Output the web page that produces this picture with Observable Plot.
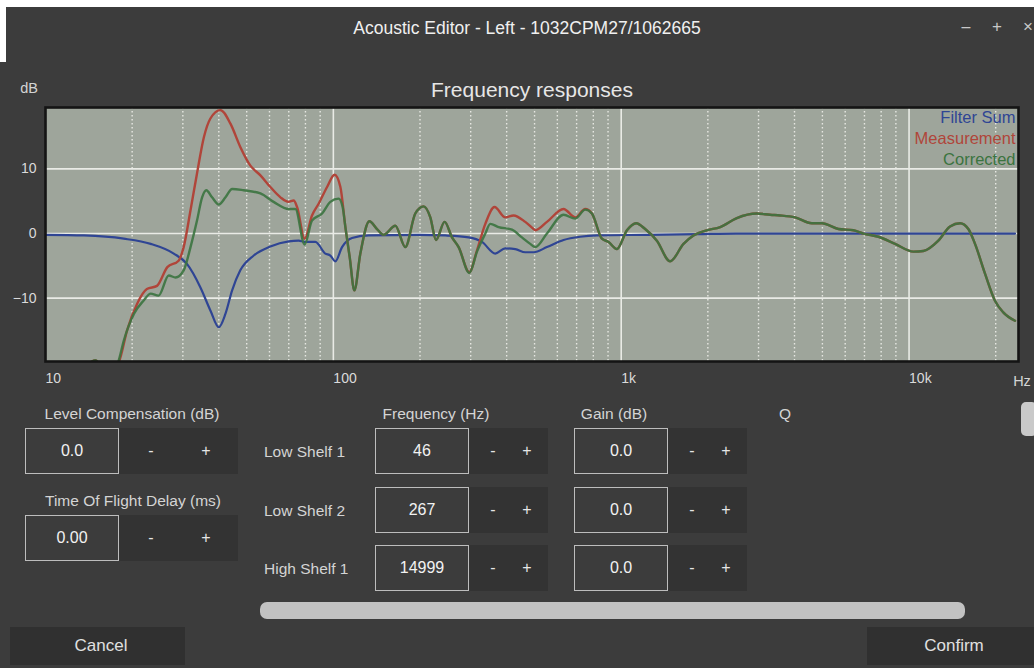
<!DOCTYPE html>
<html><head><meta charset="utf-8">
<script src="https://cdn.jsdelivr.net/npm/d3@7"></script>
<script src="https://cdn.jsdelivr.net/npm/@observablehq/plot@0.6"></script>
<style>
body{margin:0;background:#3c3c3c;font-family:"Liberation Sans",Arial,Helvetica,sans-serif;color:#d4d4d4;width:1034px;height:668px;overflow:hidden;position:relative}
.a{position:absolute;white-space:nowrap;transform:translateY(-50%);font-size:15.5px}
.t{position:absolute;transform:translate(-50%,-50%);white-space:nowrap;font-size:15.5px}
.box{position:absolute;border:1px solid #bdbdbd;box-sizing:border-box;display:flex;align-items:center;justify-content:center;color:#f2f2f2;font-size:16px}
.btn{position:absolute;background:#333333}
.pm{position:absolute;transform:translate(-50%,-50%);color:#e6e6e6;font-size:16px}
#chart{position:absolute;left:0;top:70px}
</style></head>
<body>
<div style="position:absolute;left:0;top:0;width:1034px;height:7px;background:#fff"></div>
<div style="position:absolute;left:0;top:0;width:6px;height:62px;background:#fff"></div>
<div class="t" style="left:527px;top:28px;font-size:17.5px;color:#f0f0f0">Acoustic Editor - Left - 1032CPM27/1062665</div>
<div class="t" style="left:966px;top:27px;color:#c8c8c8;font-size:16px">–</div>
<div class="t" style="left:997px;top:27px;color:#c8c8c8;font-size:17px">+</div>
<div class="t" style="left:1028px;top:27px;color:#c8c8c8;font-size:17px">×</div>
<div class="t" style="left:29px;top:88px;font-size:14.5px">dB</div>
<div class="t" style="left:532px;top:90px;font-size:21px;color:#e6e6e6">Frequency responses</div>
<div class="t" style="left:1022px;top:381px;font-size:14.5px">Hz</div>
<div id="chart"></div>

<div class="t" style="left:132px;top:414px">Level Compensation (dB)</div>
<div class="btn" style="left:118px;top:428px;width:120px;height:46px"></div>
<div class="box" style="left:25px;top:428px;width:94px;height:46px">0.0</div>
<div class="pm" style="left:151px;top:451px">-</div><div class="pm" style="left:206px;top:451px">+</div>

<div class="t" style="left:133px;top:501px">Time Of Flight Delay (ms)</div>
<div class="btn" style="left:118px;top:515px;width:120px;height:46px"></div>
<div class="box" style="left:25px;top:515px;width:94px;height:46px">0.00</div>
<div class="pm" style="left:151px;top:538px">-</div><div class="pm" style="left:206px;top:538px">+</div>

<div class="t" style="left:436px;top:414px">Frequency (Hz)</div>
<div class="t" style="left:614px;top:414px">Gain (dB)</div>
<div class="t" style="left:785px;top:414px">Q</div>
<div id="rows"></div>

<div style="position:absolute;left:260px;top:602px;width:705px;height:17px;border-radius:7px;background:#c2c2c2"></div>
<div style="position:absolute;left:1021px;top:402px;width:16px;height:34px;border-radius:5px;background:#c9c9c9"></div>
<div class="btn" style="left:10px;top:627px;width:175px;height:38px;background:#303030"></div>
<div class="t" style="left:101px;top:646px;font-size:17px;color:#e0e0e0">Cancel</div>
<div class="btn" style="left:867px;top:627px;width:167px;height:38px;background:#303030"></div>
<div class="t" style="left:954px;top:646px;font-size:17px;color:#e0e0e0">Confirm</div>

<script>
// ---- data ----
const filterNames = ["Low Shelf 1", "Low Shelf 2", "High Shelf 1"];
const filterFreqs = ["46", "267", "14999"];
const filterGains = ["0.0", "0.0", "0.0"];

const xTicks = [10, 100, 1000, 10000];
const xTickLabels = ["10", "100", "1k", "10k"];
const xMinor = [20,30,40,50,60,70,80,90,200,300,400,500,600,700,800,900,2000,3000,4000,5000,6000,7000,8000,9000,20000];
const yTicks = [-10, 0, 10];

const seriesNames = ["Filter Sum", "Measurement", "Corrected"];
const seriesColors = ["#2f4594", "#b0453a", "#3b7440"];

const sumFreq = [10,13.6,18.7,23.2,27.9,31.0,34.5,37.4,40.0,42.2,44.5,47.5,52.9,60.4,70.0,75.8,79.5,86.6,93.8,97.6,101.6,107.2,116.1,132.6,197.8,244.9,295.1,328.4,365.2,395.5,428.5,464.2,496.1,552.1,630.6,720.5,823.4,1228,1832,2500,23340];
const sumDb   = [-0.2,-0.3,-0.8,-1.6,-3.1,-4.7,-8.3,-11.9,-14.5,-12.4,-8.8,-5.7,-3.4,-2.0,-1.2,-1.1,-1.3,-1.3,-3.1,-3.4,-4.3,-2.1,-0.7,-0.3,-0.2,-0.3,-0.6,-1.3,-3.1,-2.3,-2.4,-2.9,-2.9,-2.1,-1.0,-0.5,-0.3,-0.2,-0.1,0,0];

const measFreq = [10,13,14.9,16.2,17.5,18.2,19.2,20.8,22.5,24.4,26.5,29.0,30.2,31.9,33.6,35.5,37.4,40.5,43.9,47.5,51.5,55.8,60.4,65.5,69.8,72.8,74.8,79.5,84.3,88.9,95.1,101,105.8,110.1,114,118.3,124.1,133.4,141.8,149.5,164.2,177.8,192.6,205.8,217.2,227.3,243.5,258.4,272.4,296.7,315.5,337.2,363.2,395.5,422.7,464.2,496.1,502.9,552.1,630.6,692.3,749.9,791.2,857,903.6,966.2,1047,1127,1211,1330,1479,1646,1782,1985,2208,2522,2959,3292,3565,4019,4595,4978,5682,6406,6940,7825,8943,10350,11210,12640,13880,15040,16070,16950,18360,19880,21250,23340];
const measDb   = [-27,-22,-19.6,-21.5,-21,-19.2,-15.0,-10.9,-8.6,-8.1,-5.2,-4.2,-2.1,3.6,9.3,14.9,17.8,19.1,17.0,13.4,10.5,9.0,7.2,5.6,4.9,5.1,4.1,-0.8,2.8,4.6,7.2,9.1,7.2,1.0,-3.7,-8.8,-3.1,1.9,0.7,-0.2,1.2,-2.1,3.1,4.2,2.5,-1.0,1.8,-0.6,-2.1,-6.0,-2.6,1.5,4.1,2.5,2.8,1.8,0.7,0.5,1.8,3.8,2.5,3.8,3.1,-0.8,-1.3,-2.4,0.5,1.6,0.7,-1.1,-4.3,-1.6,-0.3,0.5,1.0,2.4,3.1,2.9,2.8,2.5,1.6,1.6,0.7,0.5,0,-0.5,-1.6,-2.8,-2.7,-1.1,1.1,1.6,0.7,-1.6,-6.2,-10.4,-12.2,-13.5];

const corrFreq = [10,13,14.9,16.2,17.5,18.0,18.7,20.3,21.9,23.2,24.7,26.8,28.3,30.2,31.9,33.6,35.0,36.2,37.9,40.0,42.2,44.5,48.8,55.8,62.0,70.0,73.8,79.5,84.3,91.4,97.6,104.3,107.7,110.1,114,118.3,124.1,133.4,141.8,149.5,164.2,177.8,192.6,205.8,217.2,227.3,243.5,258.4,272.4,296.7,315.5,337.2,350.9,375,417.4,452,483.1,502.9,552.1,630.6,692.3,749.9,791.2,857,903.6,966.2,1047,1127,1211,1330,1479,1646,1782,1985,2208,2522,2959,3292,3565,4019,4595,4978,5682,6406,6940,7825,8943,10350,11210,12640,13880,15040,16070,16950,18360,19880,21250,23340];
const corrDb   = [-27,-22,-19.6,-21.5,-21,-19.5,-16.6,-12.4,-10.4,-9.3,-9.6,-6.5,-6.8,-5.7,-2.1,2.0,5.6,6.7,5.6,4.5,5.6,6.9,6.7,6.2,4.9,3.8,3.8,-1.7,2.0,3.1,4.9,5.4,4.1,1.0,-3.7,-8.8,-3.1,1.9,0.7,-0.2,1.2,-2.1,3.1,4.2,2.5,-1.0,1.8,-0.6,-2.1,-6.1,-2.8,0,1.5,1.0,0.6,-0.6,-1.6,-2.1,0,2.9,2.3,3.7,3.1,-0.8,-1.3,-2.4,0.5,1.6,0.7,-1.1,-4.3,-1.6,-0.3,0.5,1.0,2.4,3.1,2.9,2.8,2.5,1.6,1.6,0.7,0.5,0,-0.5,-1.6,-2.8,-2.7,-1.1,1.1,1.6,0.7,-1.6,-6.2,-10.4,-12.2,-13.5];

// ---- tables built from arrays ----
const toRows = (f, d) => f.map((v, i) => ({f: v, db: d[i]}));
const sum = toRows(sumFreq, sumDb);
const meas = toRows(measFreq, measDb);
const corr = toRows(corrFreq, corrDb);

const font = '"Liberation Sans", Arial, Helvetica, sans-serif';
const chart = Plot.plot({
  width: 1034, height: 325,
  marginLeft: 45, marginRight: 16, marginTop: 37, marginBottom: 34,
  x: {type: "log", domain: [10, 24000]},
  y: {domain: [-19.8, 19.5]},
  style: {background: "transparent", fontSize: "14px", color: "#dadada", fontFamily: font},
  marks: [
    Plot.frame({fill: "#9ea59b"}),
    Plot.ruleX(xMinor, {stroke: "#eef0ea", strokeWidth: 1.4, strokeDasharray: "1.5,2.5", strokeOpacity: 0.9}),
    Plot.ruleX(xTicks.slice(1), {stroke: "#e9ebe6", strokeWidth: 1.6}),
    Plot.ruleY(yTicks, {stroke: "#e9ebe6", strokeWidth: 1.6}),
    Plot.line(sum, {x: "f", y: "db", stroke: seriesColors[0], strokeWidth: 2.2, curve: "monotone-x", clip: true}),
    Plot.line(meas, {x: "f", y: "db", stroke: seriesColors[1], strokeWidth: 2.4, curve: "monotone-x", clip: true}),
    Plot.line(corr, {x: "f", y: "db", stroke: seriesColors[2], strokeWidth: 2.4, strokeOpacity: 0.9, curve: "monotone-x", clip: true}),
    Plot.frame({stroke: "#141414", strokeWidth: 2.6}),
    Plot.axisX({ticks: xTicks, tickFormat: (d) => xTickLabels[xTicks.indexOf(d)], tickSize: 0, tickPadding: 12, textAnchor: "start", label: null}),
    Plot.axisY({ticks: yTicks, tickSize: 0, tickPadding: 9, label: null}),
    ...seriesNames.map((name, i) => Plot.text([name], {frameAnchor: "top-right", dx: -3, dy: 4 + 21 * i, fill: seriesColors[i], textAnchor: "end", fontSize: 16.5}))
  ]
});
document.getElementById("chart").appendChild(chart);

// control rows
const rows = document.getElementById("rows");
const tops = [428, 487, 545];
filterNames.forEach((n, i) => {
  const t = tops[i];
  rows.insertAdjacentHTML("beforeend",
    `<div class="a" style="left:264px;top:${t + 24}px">${n}</div>
     <div class="btn" style="left:468px;top:${t}px;width:80px;height:46px"></div>
     <div class="box" style="left:375px;top:${t}px;width:94px;height:46px">${filterFreqs[i]}</div>
     <div class="pm" style="left:493px;top:${t + 23}px">-</div><div class="pm" style="left:527px;top:${t + 23}px">+</div>
     <div class="btn" style="left:667px;top:${t}px;width:80px;height:46px"></div>
     <div class="box" style="left:574px;top:${t}px;width:94px;height:46px">${filterGains[i]}</div>
     <div class="pm" style="left:692px;top:${t + 23}px">-</div><div class="pm" style="left:726px;top:${t + 23}px">+</div>`);
});
</script>
</body></html>
